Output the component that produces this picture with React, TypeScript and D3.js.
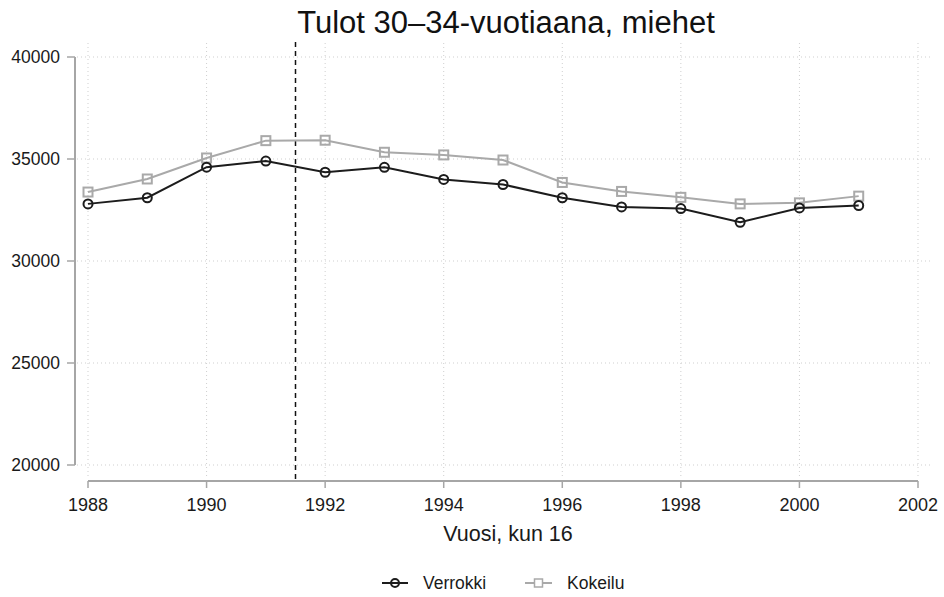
import React from "react";
import * as d3 from "d3";

const years = [1988, 1989, 1990, 1991, 1992, 1993, 1994, 1995, 1996, 1997, 1998, 1999, 2000, 2001];
const verrokki = [32800, 33100, 34600, 34900, 34350, 34590, 34000, 33750, 33100, 32650, 32570, 31900, 32600, 32720];
const kokeilu = [33380, 34020, 35050, 35900, 35920, 35330, 35200, 34950, 33850, 33410, 33120, 32800, 32850, 33180];
const xTicks = [1988, 1990, 1992, 1994, 1996, 1998, 2000, 2002];
const yTicks = [20000, 25000, 30000, 35000, 40000];
const title = "Tulot 30–34-vuotiaana, miehet";
const xTitle = "Vuosi, kun 16";
const seriesNames = ["Verrokki", "Kokeilu"];
const cutYear = 1991.5;

const W = 944;
const H = 597;
const FONT = "'Liberation Sans', Arial, sans-serif";

export default function App() {
  const x = d3.scaleLinear().domain([1988, 2002]).range([88, 918]);
  const y = d3.scaleLinear().domain([20000, 40000]).range([465, 57]);
  const line = d3
    .line<number>()
    .x((_, i) => x(years[i]))
    .y((d) => y(d));

  const black = "#1c1c1c";
  const gray = "#a9a9a9";
  const axisCol = "#a6a6a6";
  const gridCol = "#cfcfcf";

  return (
    <div style={{ position: "fixed", left: 0, top: 0 }}>
      <svg width={W} height={H} style={{ display: "block", background: "#fff" }} fontFamily={FONT}>
        {/* grid */}
        {yTicks.map((t) => (
          <line key={"gy" + t} x1={77} x2={932} y1={y(t)} y2={y(t)} stroke={gridCol} strokeWidth={1} strokeDasharray="1,3" />
        ))}
        {xTicks.map((t) => (
          <line key={"gx" + t} x1={x(t)} x2={x(t)} y1={43} y2={479} stroke={gridCol} strokeWidth={1} strokeDasharray="1,3" />
        ))}
        {/* y axis */}
        <line x1={75} x2={75} y1={y(40000)} y2={y(20000)} stroke={axisCol} strokeWidth={2} />
        {yTicks.map((t) => (
          <g key={"yt" + t}>
            <line x1={67} x2={75} y1={y(t)} y2={y(t)} stroke={axisCol} strokeWidth={1.5} />
            <text x={60} y={y(t) + 6} textAnchor="end" fontSize={17.5} fill="#1a1a1a">
              {t}
            </text>
          </g>
        ))}
        {/* x axis */}
        <line x1={x(1988)} x2={x(2002)} y1={481} y2={481} stroke={axisCol} strokeWidth={2} />
        {xTicks.map((t) => (
          <g key={"xt" + t}>
            <line x1={x(t)} x2={x(t)} y1={481} y2={488} stroke={axisCol} strokeWidth={1.5} />
            <text x={x(t)} y={511} textAnchor="middle" fontSize={18} fill="#1a1a1a">
              {t}
            </text>
          </g>
        ))}
        {/* cut line */}
        <line x1={x(cutYear)} x2={x(cutYear)} y1={42} y2={480} stroke="#111" strokeWidth={1.5} strokeDasharray="5,4" />
        {/* series */}
        <path d={line(kokeilu) || ""} fill="none" stroke={gray} strokeWidth={2} />
        {kokeilu.map((v, i) => (
          <rect key={"k" + i} x={x(years[i]) - 4.5} y={y(v) - 4.5} width={9} height={9} fill="none" stroke={gray} strokeWidth={2} />
        ))}
        <path d={line(verrokki) || ""} fill="none" stroke={black} strokeWidth={2} />
        {verrokki.map((v, i) => (
          <circle key={"v" + i} cx={x(years[i])} cy={y(v)} r={4.5} fill="none" stroke={black} strokeWidth={2} />
        ))}
        {/* titles */}
        <text x={506} y={33} textAnchor="middle" fontSize={31} fill="#111">
          {title}
        </text>
        <text x={508} y={541} textAnchor="middle" fontSize={21.5} fill="#1a1a1a">
          {xTitle}
        </text>
        {/* legend */}
        <g>
          <line x1={382} x2={408} y1={583} y2={583} stroke={black} strokeWidth={2} />
          <circle cx={395} cy={583} r={4} fill="none" stroke={black} strokeWidth={2} />
          <text x={423} y={589} fontSize={17.5} fill="#1a1a1a">
            {seriesNames[0]}
          </text>
          <line x1={525} x2={552} y1={583} y2={583} stroke={gray} strokeWidth={2} />
          <rect x={534.5} y={579} width={8} height={8} fill="#fff" stroke={gray} strokeWidth={1.5} />
          <text x={567} y={589} fontSize={17.5} fill="#1a1a1a">
            {seriesNames[1]}
          </text>
        </g>
      </svg>
    </div>
  );
}
